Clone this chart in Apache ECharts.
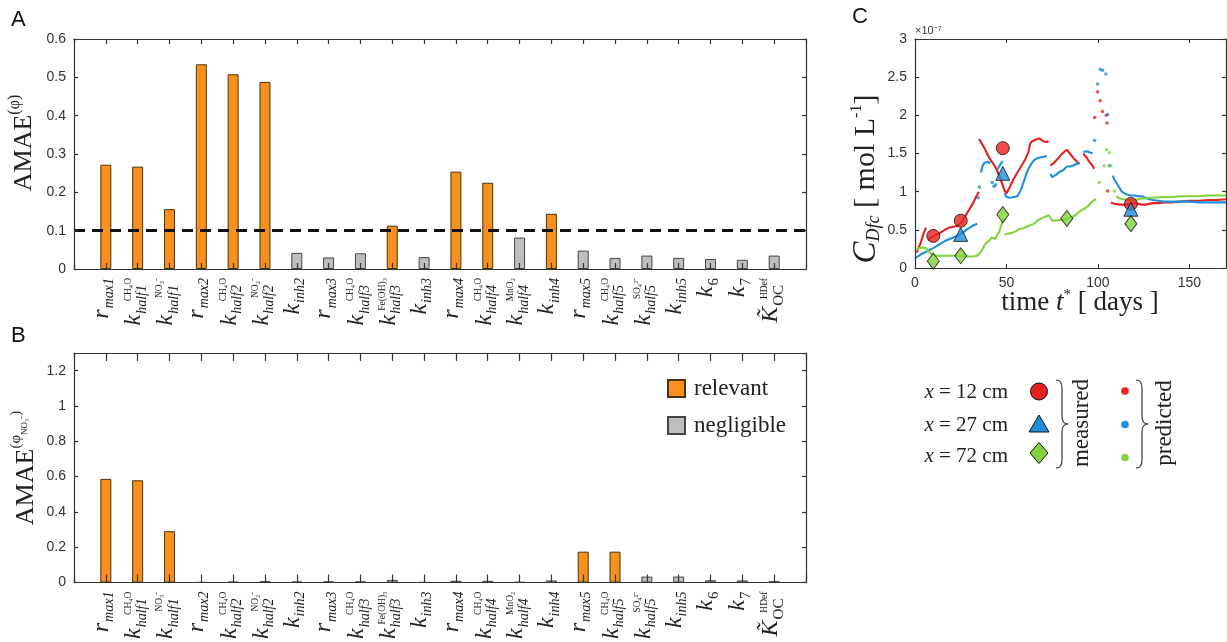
<!DOCTYPE html>
<html><head><meta charset="utf-8">
<script src="https://cdn.jsdelivr.net/npm/echarts@6/dist/echarts.min.js"></script>
<style>html,body{margin:0;padding:0;background:#fff}#c{width:1227px;height:642px}</style>
</head><body><div id="c"></div>
<script>
// ---------- DATA ----------
const paramMain = ['r','k','k','r','k','k','k','r','k','k','k','r','k','k','k','r','k','k','k','k','k','K\u0303'];
const paramSup  = ['','CH₄O','NO₃⁻','','CH₄O','NO₂⁻','','','CH₄O','Fe(OH)₃','','','CH₄O','MnO₂','','','CH₄O','SO₄²⁻','','','','HDef'];
const paramSub  = ['max1','half1','half1','max2','half2','half2','inh2','max3','half3','half3','inh3','max4','half4','half4','inh4','max5','half5','half5','inh5','6','7','OC'];
const amaePhi   = [0.272,0.267,0.156,0.534,0.508,0.488,0.042,0.030,0.041,0.113,0.031,0.254,0.225,0.082,0.144,0.048,0.029,0.035,0.029,0.026,0.024,0.035];
const amaeNO3   = [0.587,0.579,0.291,0.002,0.005,0.008,0.006,0.007,0.007,0.015,0.002,0.010,0.010,0.003,0.012,0.175,0.175,0.034,0.034,0.013,0.012,0.008];
const threshold = 0.1;

// Panel C (values in units of 1e-7 mol/L), time in days
const predRedSegs = [
 [[1,0.20],[2,0.27],[3,0.32],[4,0.40],[5,0.47],[6,0.53]],
 [[7,0.37],[8,0.38],[9,0.40],[10,0.41],[11,0.43],[12,0.44],[13,0.45],[14,0.46],[15,0.48],[16,0.49],[17,0.51],[18,0.52],[19,0.53],[20,0.53],[21,0.54],[22,0.55],[23,0.55],[24,0.57],[25,0.59],[26,0.62],[27,0.66],[28,0.70],[29,0.74],[30,0.78],[31,0.82],[32,0.86],[33,0.91],[34,0.96],[35,1.00]],
 [[35,1.69],[36,1.65],[37,1.61],[38,1.57],[39,1.52],[40,1.47],[41,1.43],[42,1.39],[43,1.36],[44,1.32],[45,1.27],[46,1.21],[47,1.15],[48,1.08],[49,1.01],[50,0.98],[51,1.02],[52,1.07],[53,1.12],[54,1.17],[55,1.21],[56,1.25],[57,1.29],[58,1.33],[59,1.37],[60,1.41],[61,1.46],[62,1.52],[63,1.63],[64,1.66],[65,1.67],[66,1.68],[67,1.69],[68,1.70],[69,1.70],[70,1.66],[71,1.65],[72,1.65],[73,1.66]],
 [[74,1.34],[75,1.35],[76,1.38],[77,1.40],[78,1.43],[79,1.46],[80,1.48],[81,1.51],[82,1.53],[83,1.55],[84,1.52],[85,1.49],[86,1.46],[87,1.43],[88,1.41],[89,1.38],[90,1.36]],
 [[92,1.50],[93,1.47],[94,1.44],[95,1.40],[96,1.37],[97,1.34],[98,1.30]],
 [[107,0.86],[108,0.85],[109,0.84],[110,0.84],[112,0.83],[114,0.83],[116,0.83],[118,0.84],[120,0.85],[122,0.84],[124,0.83],[126,0.83],[128,0.84],[130,0.85],[133,0.85],[136,0.86],[140,0.86],[145,0.87],[150,0.88],[155,0.88],[160,0.89],[165,0.89],[170,0.90]]
];
const predRedDots = [[98.2,1.97],[99.8,2.31],[101.2,2.19],[102.5,2.05],[104.6,2.00],[105,1.90],[105.3,1.01]];
const predBlueSegs = [
 [[0,0.13],[2,0.16],[4,0.19],[6,0.21],[8,0.24],[10,0.26],[12,0.29],[14,0.32],[16,0.35],[18,0.37],[20,0.39],[22,0.41],[24,0.43],[26,0.46],[28,0.50],[30,0.53],[32,0.56],[34,0.58]],
 [[36,1.25],[37,1.34],[38,1.38],[39,1.39],[40,1.39],[41,1.37]],
 [[45,1.29],[46,1.33],[47,1.37],[48,1.40]],
 [[49,0.98],[50,0.93],[51,0.91],[52,0.92],[53,0.94],[54,0.93],[55,0.92],[56,0.94],[57,0.96],[58,1.03],[59,1.10],[60,1.17],[61,1.24],[62,1.30],[63,1.34],[64,1.38],[65,1.41],[66,1.43],[67,1.44],[68,1.44],[69,1.45],[70,1.46],[71,1.46],[72,1.47]],
 [[74,1.23],[75,1.19],[76,1.20],[77,1.22],[78,1.24],[79,1.26],[80,1.27],[81,1.28],[82,1.30],[83,1.33],[84,1.32],[85,1.33],[86,1.34],[87,1.35],[88,1.36],[89,1.37],[90,1.38]],
 [[92,1.52],[93,1.53],[94,1.53],[95,1.52],[96,1.51],[97,1.50]],
 [[108,1.21],[109,1.16],[110,1.12],[111,1.08],[112,1.04],[113,1.00],[114,0.98],[115,0.97],[116,0.96],[118,0.95],[120,0.95],[122,0.94],[124,0.94],[126,0.92],[128,0.90],[130,0.89],[133,0.88],[136,0.87],[140,0.87],[145,0.87],[150,0.87],[155,0.86],[160,0.86],[165,0.86],[170,0.86]]
];
const predBlueDots = [[34.5,0.92],[35.2,1.06],[42.2,1.12],[43.2,1.07],[44.1,1.09],[98.2,1.67],[99.8,2.41],[101.3,2.60],[102.5,2.59],[104.3,2.54],[105.3,2.01],[106.2,1.34]];
const predGreenSegs = [
 [[0,0.22],[1,0.24],[2,0.26],[3,0.27],[4,0.27],[5,0.27],[6,0.26],[7,0.23],[8,0.20],[9,0.18],[10,0.17],[12,0.16],[14,0.16],[16,0.16],[18,0.16],[20,0.16],[22,0.16],[24,0.16],[26,0.16],[28,0.15],[30,0.15],[32,0.15],[34,0.16],[35,0.17],[36,0.21],[37,0.25],[38,0.30],[39,0.33],[40,0.35],[41,0.37],[42,0.40],[43,0.39],[44,0.38],[45,0.44],[46,0.47],[47,0.55],[48,0.62],[48.5,0.65]],
 [[49,0.44],[50,0.44],[51,0.45],[52,0.46],[53,0.46],[54,0.47],[55,0.48],[56,0.50],[57,0.51],[58,0.52],[59,0.52],[60,0.53],[61,0.54],[62,0.55],[63,0.56],[64,0.57],[65,0.58],[66,0.60],[67,0.62],[68,0.64],[69,0.65],[70,0.66],[71,0.67],[72,0.68],[73,0.69],[74,0.66],[75,0.62],[76,0.61],[77,0.62],[78,0.62],[79,0.63],[80,0.63],[81,0.63],[82,0.63],[83,0.64],[84,0.65],[85,0.66],[86,0.67],[87,0.68],[88,0.70],[89,0.72],[90,0.74],[91,0.76],[92,0.77],[93,0.78],[94,0.80],[95,0.82],[96,0.85],[97,0.87],[98,0.89],[99,0.90]],
 [[110,0.94],[111,0.92],[112,0.91],[113,0.90],[114,0.90],[116,0.89],[118,0.89],[120,0.89],[122,0.90],[124,0.91],[126,0.91],[128,0.92],[130,0.92],[135,0.93],[140,0.93],[145,0.94],[150,0.94],[155,0.94],[160,0.95],[165,0.95],[170,0.95]]
];
const predGreenDots = [[100.7,1.12],[103.4,1.34],[104.7,1.55],[106.2,1.51],[107.1,1.34],[108.9,1.01]];
const measRed   = [[10,0.42],[25,0.62],[48,1.57],[118,0.84]];
const measBlue  = [[25,0.44],[48,1.24],[118,0.77]];
const measGreen = [[10,0.09],[25,0.16],[48,0.70],[83,0.65],[118,0.58]];

// ---------- STYLE ----------
const SERIF = 'Liberation Serif', SANS = 'Liberation Sans';
const ORANGE = '#F7901E', GRAY = '#BEBEBE';
const RED = '#E8201E', BLUE = '#1E8FDC', GREEN = '#82D43A';
const AX = '#333';

const labelRich = {
  m:   {fontFamily:SERIF, fontStyle:'italic', fontSize:24, height:10, lineHeight:10, verticalAlign:'top', color:'#222'},
  sub: {fontFamily:SERIF, fontStyle:'italic', fontSize:14, height:12, lineHeight:19, padding:[7,0,0,1], verticalAlign:'top', color:'#222'},
  subr:{fontFamily:SERIF, fontSize:15, height:12, lineHeight:19, padding:[7,0,0,1], verticalAlign:'top', color:'#222'},
  sup: {fontFamily:SERIF, fontSize:9.5, height:2, lineHeight:2, align:'right', color:'#222'},
  pad: {fontSize:9, height:2, lineHeight:2, width:7}
};
function paramLabel(v){
  const i = Math.round(v) - 1;
  if (i < 0 || i >= paramMain.length) return '';
  const subKey = /[a-z]/.test(paramSub[i]) ? 'sub' : 'subr';
  const mainTok = '{m|' + paramMain[i] + '}{' + subKey + '|' + paramSub[i] + '}';
  if (!paramSup[i]) return mainTok;
  return '{sup|' + paramSup[i] + '}\n' + mainTok + '{pad| }';
}

function catAxis(gi, pos, labels, tickLen){
  return {type:'value', gridIndex:gi, position:pos, min:0, max:paramMain.length+1, interval:1, z:5,
    axisLine:{show:true, onZero:false, lineStyle:{color:AX, width:1.2}},
    axisTick:{show:true, inside:true, length:tickLen, lineStyle:{color:AX, width:1.2}},
    splitLine:{show:false},
    axisLabel: labels ? {show:true, rotate:90, margin:9, formatter:paramLabel, rich:labelRich} : {show:false}};
}
function valAxis(gi, pos, max, interval, labels, showMax){
  return {type:'value', gridIndex:gi, position:pos, min:0, max:max, interval:interval, z:5,
    axisLine:{show:true, onZero:false, lineStyle:{color:AX, width:1.2}},
    axisTick:{show:true, inside:true, length:4, lineStyle:{color:AX, width:1.2}},
    splitLine:{show:false},
    axisLabel: labels ? {show:true, fontFamily:SANS, fontSize:14, color:'#333', margin:8, showMaxLabel:showMax} : {show:false}};
}

function barPair(vals, xi, yi, withLine){
  const rel = [], neg = [];
  vals.forEach((v,i)=>{ (v > threshold ? rel : neg).push([i+1, v]); });
  const relS = {name:'relevant', type:'bar', xAxisIndex:xi, yAxisIndex:yi, data:rel, barWidth:11, barGap:'-100%',
    itemStyle:{color:ORANGE, borderColor:'#4a3210', borderWidth:1}};
  if (withLine) relS.markLine = {silent:true, symbol:'none', label:{show:false}, animation:false,
    lineStyle:{type:[11,7], width:3, color:'#111'}, data:[{yAxis:threshold}]};
  const negS = {name:'negligible', type:'bar', xAxisIndex:xi, yAxisIndex:yi, data:neg, barWidth:11, barGap:'-100%',
    itemStyle:{color:GRAY, borderColor:'#444', borderWidth:1}};
  return [relS, negS];
}
function segLine(segs){
  const out = [];
  segs.forEach((s,k)=>{ if (k>0) out.push([s[0][0]-0.01, '-']); s.forEach(p=>out.push(p)); });
  return out;
}
function predSeries(segs, dots, color){
  return [
    {type:'line', xAxisIndex:4, yAxisIndex:4, data:segLine(segs), showSymbol:false, symbol:'none', connectNulls:false,
     lineStyle:{color:color, width:2.1}, z:3, silent:true},
    {type:'scatter', xAxisIndex:4, yAxisIndex:4, data:dots, symbolSize:3.5, itemStyle:{color:color}, z:3, silent:true}
  ];
}
function measSeries(data, symbol, size, color){
  return {type:'scatter', xAxisIndex:4, yAxisIndex:4, data:data, symbol:symbol, symbolSize:size,
    itemStyle:{color:color, borderColor:'#111', borderWidth:1}, z:6, silent:true};
}
function brace(x0, yTop, yBot){
  const yMid = (yTop + yBot) / 2, xs = x0 + 6, xt = x0 + 12, st = {fill:'none', stroke:'#333', lineWidth:1.2};
  return [
    {type:'bezierCurve', shape:{x1:x0, y1:yTop, cpx1:xs, cpy1:yTop, x2:xs, y2:yTop+8}, style:st},
    {type:'line', shape:{x1:xs, y1:yTop+8, x2:xs, y2:yMid-8}, style:st},
    {type:'bezierCurve', shape:{x1:xs, y1:yMid-8, cpx1:xs, cpy1:yMid, x2:xt, y2:yMid}, style:st},
    {type:'bezierCurve', shape:{x1:xt, y1:yMid, cpx1:xs, cpy1:yMid, x2:xs, y2:yMid+8}, style:st},
    {type:'line', shape:{x1:xs, y1:yMid+8, x2:xs, y2:yBot-8}, style:st},
    {type:'bezierCurve', shape:{x1:xs, y1:yBot-8, cpx1:xs, cpy1:yBot, x2:x0, y2:yBot}, style:st}
  ];
}
function legendText(y, s){
  return {type:'text', x:1008, y:y, style:{text:s.replace(/^x/, '{i|x}'), align:'right', verticalAlign:'middle', fontFamily:SERIF, fontSize:21, fill:'#222',
    rich:{i:{fontFamily:SERIF, fontStyle:'italic', fontSize:21, fill:'#222'}}}};
}

const chart = echarts.init(document.getElementById('c'), null, {renderer:'canvas'});
const option = {
  animation:false,
  backgroundColor:'#fff',
  grid:[
    {left:74, top:39, width:732, height:230},
    {left:74, top:353, width:732, height:231},
    {left:915, top:39, width:311, height:229}
  ],
  xAxis:[
    catAxis(0,'bottom',true,6), catAxis(0,'top',false,5),
    catAxis(1,'bottom',true,8), catAxis(1,'top',false,8),
    {type:'value', gridIndex:2, position:'bottom', min:0, max:170, interval:50, z:5,
     axisLine:{show:true, onZero:false, lineStyle:{color:AX, width:1.2}},
     axisTick:{show:true, inside:true, length:4, lineStyle:{color:AX}}, splitLine:{show:false},
     axisLabel:{fontFamily:SANS, fontSize:14, color:'#333', margin:8, showMaxLabel:false}},
    {type:'value', gridIndex:2, position:'top', min:0, max:170, interval:50, z:5,
     axisLine:{show:true, onZero:false, lineStyle:{color:AX, width:1.2}},
     axisTick:{show:true, inside:true, length:4, lineStyle:{color:AX}}, splitLine:{show:false}, axisLabel:{show:false}}
  ],
  yAxis:[
    valAxis(0,'left',0.6,0.1,true,true), valAxis(0,'right',0.6,0.1,false,true),
    valAxis(1,'left',1.3,0.2,true,false), valAxis(1,'right',1.3,0.2,false,false),
    valAxis(2,'left',3,0.5,true,true), valAxis(2,'right',3,0.5,false,true)
  ],
  legend:{show:true, data:['relevant','negligible'], orient:'vertical', left:667, top:377, padding:0,
    itemWidth:17, itemHeight:17, itemGap:14, icon:'rect',
    textStyle:{fontFamily:SERIF, fontSize:23, lineHeight:17, color:'#222', padding:[0,0,0,4]}, selectedMode:false},
  series:[].concat(
    barPair(amaePhi, 0, 0, true),
    barPair(amaeNO3, 2, 2, false),
    predSeries(predRedSegs, predRedDots, RED),
    predSeries(predBlueSegs, predBlueDots, BLUE),
    predSeries(predGreenSegs, predGreenDots, GREEN),
    [measSeries(measRed,'circle',13,RED), measSeries(measBlue,'triangle',14,BLUE), measSeries(measGreen,'diamond',[12,16],GREEN)]
  ),
  graphic:[].concat([
    {type:'text', x:11, y:9, style:{text:'A', fontFamily:SANS, fontSize:22, fill:'#111'}},
    {type:'text', x:11, y:325, style:{text:'B', fontFamily:SANS, fontSize:22, fill:'#111'}},
    {type:'text', x:852, y:6, style:{text:'C', fontFamily:SANS, fontSize:22, fill:'#111'}},
    {type:'text', x:915, y:31, style:{text:'×10⁻⁷', fontFamily:SANS, fontSize:11, fill:'#333', align:'left', verticalAlign:'middle'}},
    {type:'text', x:22, y:143, rotation:Math.PI/2, style:{text:'{m|AMAE}{s|(φ)}', align:'center', verticalAlign:'middle', fill:'#222',
      rich:{m:{fontFamily:SERIF, fontSize:26, lineHeight:30, verticalAlign:'bottom', fill:'#222'}, s:{fontFamily:SERIF, fontSize:16, lineHeight:16, verticalAlign:'top', fill:'#222'}}}},
    {type:'text', x:24, y:468, rotation:Math.PI/2, style:{text:'{m|AMAE}{s|(φ}{ss|NO₃⁻}{s|)}', align:'center', verticalAlign:'middle', fill:'#222',
      rich:{m:{fontFamily:SERIF, fontSize:26, lineHeight:30, verticalAlign:'bottom', fill:'#222'}, s:{fontFamily:SERIF, fontSize:15, lineHeight:15, verticalAlign:'top', fill:'#222'}, ss:{fontFamily:SERIF, fontSize:9, lineHeight:6, verticalAlign:'top', padding:[11,0,0,0], fill:'#222'}}}},
    {type:'text', x:866, y:179, rotation:Math.PI/2, style:{text:'{c|C}{d|Dfc}{t| [ mol L}{e|-1}{t|]}', align:'center', verticalAlign:'middle', fill:'#222',
      rich:{c:{fontFamily:SERIF, fontStyle:'italic', fontSize:33, lineHeight:34, fill:'#222'}, d:{fontFamily:SERIF, fontStyle:'italic', fontSize:18, lineHeight:10, verticalAlign:'bottom', fill:'#222'}, t:{fontFamily:SERIF, fontSize:30, lineHeight:34, fill:'#222'}, e:{fontFamily:SERIF, fontSize:16, lineHeight:14, verticalAlign:'top', fill:'#222'}}}},
    {type:'text', x:1080, y:303, style:{text:'{t|time }{i|t}{s|*}{t| [ days ]}', align:'center', verticalAlign:'middle', fill:'#222',
      rich:{t:{fontFamily:SERIF, fontSize:27, lineHeight:30, fill:'#222'}, i:{fontFamily:SERIF, fontStyle:'italic', fontSize:27, lineHeight:30, fill:'#222'}, s:{fontFamily:SERIF, fontSize:15, lineHeight:14, verticalAlign:'top', fill:'#222'}}}},
    // C legend
    legendText(392, 'x = 12 cm'), legendText(425, 'x = 27 cm'), legendText(456, 'x = 72 cm'),
    {type:'circle', shape:{cx:1039, cy:391.5, r:8.5}, style:{fill:RED, stroke:'#111', lineWidth:1}},
    {type:'polygon', shape:{points:[[1039,415],[1049,432],[1029,432]]}, style:{fill:BLUE, stroke:'#111', lineWidth:1}},
    {type:'polygon', shape:{points:[[1039,442.5],[1048,453],[1039,463.5],[1030,453]]}, style:{fill:GREEN, stroke:'#111', lineWidth:1}},
    {type:'text', x:1082, y:423, rotation:Math.PI/2, style:{text:'measured', fontFamily:SERIF, fontSize:23, fill:'#222', align:'center', verticalAlign:'middle'}},
    {type:'circle', shape:{cx:1125, cy:391, r:3.8}, style:{fill:RED}},
    {type:'circle', shape:{cx:1125, cy:424.5, r:3.8}, style:{fill:BLUE}},
    {type:'circle', shape:{cx:1125, cy:457.5, r:3.8}, style:{fill:GREEN}},
    {type:'text', x:1165, y:423, rotation:Math.PI/2, style:{text:'predicted', fontFamily:SERIF, fontSize:23, fill:'#222', align:'center', verticalAlign:'middle'}}
  ], brace(1056, 380, 468), brace(1136, 380, 468))
};
chart.setOption(option);
</script></body></html>
